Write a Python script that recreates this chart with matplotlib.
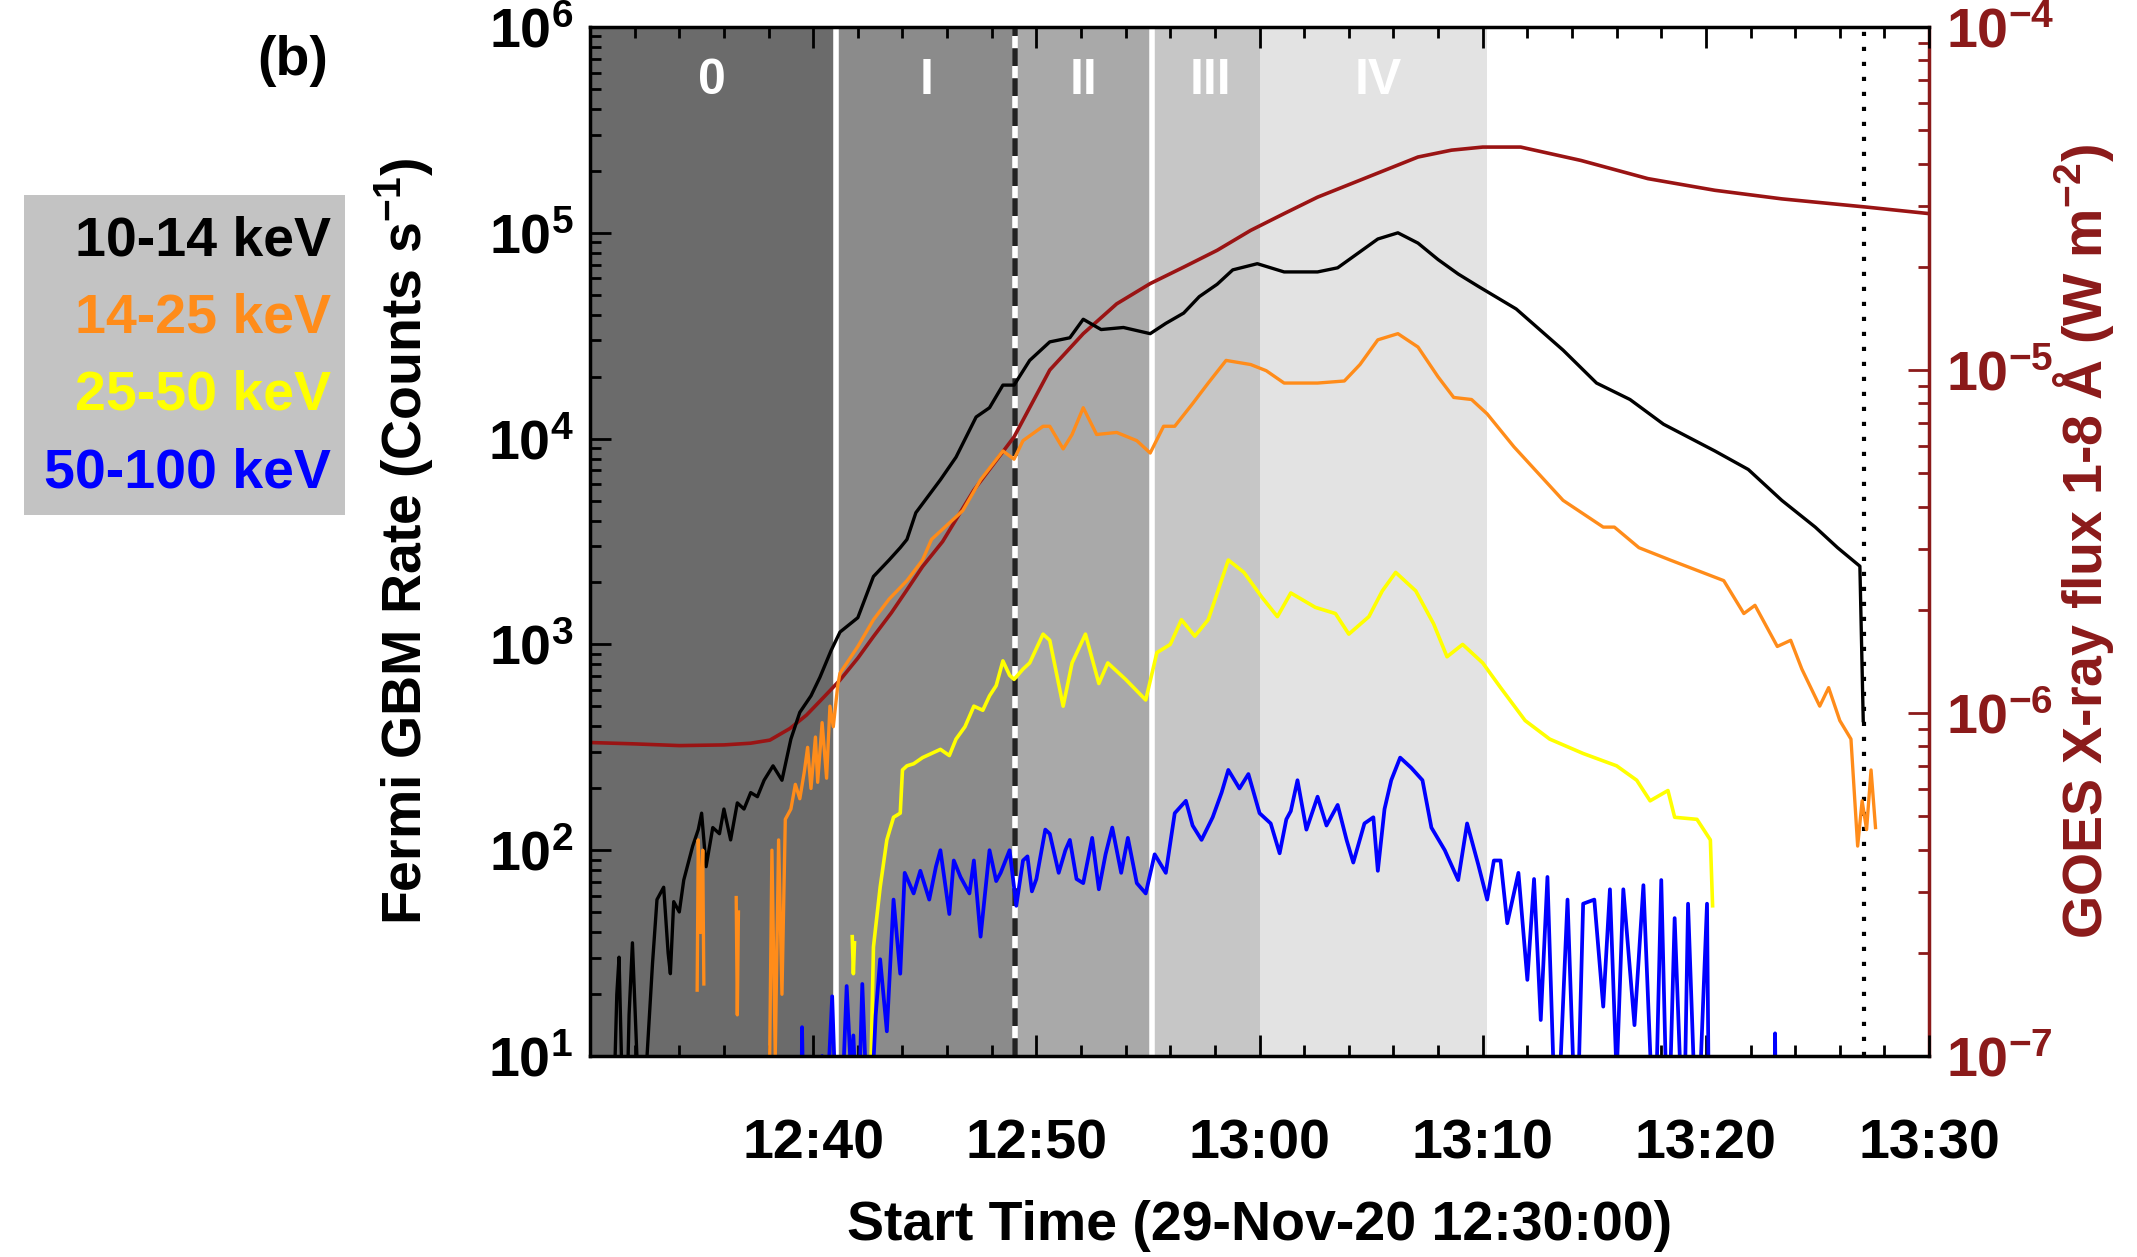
import numpy as np
import matplotlib
matplotlib.use("Agg")
import matplotlib.pyplot as plt
from matplotlib.ticker import FixedLocator, MultipleLocator, LogLocator, FuncFormatter, NullFormatter
from matplotlib.patches import Rectangle
import matplotlib.transforms as mtransforms

plt.rcParams['font.family'] = ['Liberation Sans', 'DejaVu Sans']
plt.rcParams['font.weight'] = 'bold'
plt.rcParams['mathtext.fontset'] = 'custom'
plt.rcParams['mathtext.rm'] = 'Liberation Sans:bold'
plt.rcParams['mathtext.bf'] = 'Liberation Sans:bold'
plt.rcParams['mathtext.it'] = 'Liberation Sans:bold'
plt.rcParams['mathtext.default'] = 'bf'

# time in minutes after 12:30:00, values as log10
# (values <= 1 fall below the axis floor)
black_t = [1.0, 1.2, 1.3, 1.45, 1.6, 1.75, 1.9, 2.1, 2.3, 2.5, 2.8, 3.0, 3.3, 3.5, 3.6, 3.75, 4.0, 4.2,
           4.6, 4.85, 5.0, 5.2, 5.5, 5.8, 6.0, 6.3, 6.6, 6.9, 7.2, 7.5, 7.8, 8.2, 8.6, 9.0, 9.4, 9.9,
           10.3, 10.8, 11.2, 12.0, 12.7, 13.4, 13.9, 14.2, 14.6, 15.7, 16.4, 17.3, 17.9, 18.5, 19.0,
           19.7, 20.6, 21.5, 22.1, 22.9, 23.9, 25.1, 25.8, 26.6, 27.3, 28.1, 28.8, 29.9, 31.1, 32.6,
           33.5, 34.4, 35.3, 36.2, 37.1, 38.0, 38.9, 39.8, 41.5, 43.6, 45.1, 46.6, 48.1, 50.4, 51.9,
           53.4, 54.9, 55.9, 56.9, 57.05]
black_log = [0.5, 1.3, 1.48, 0.8, 0.5, 1.2, 1.55, 1.0, 0.5, 0.9, 1.45, 1.76, 1.82, 1.5, 1.4, 1.75, 1.7, 1.855,
             2.02, 2.1, 2.18, 1.92, 2.11, 2.08, 2.2, 2.05, 2.23, 2.2, 2.28, 2.26, 2.34, 2.41, 2.34, 2.54, 2.67, 2.75,
             2.84, 2.97, 3.06, 3.13, 3.33, 3.41, 3.47, 3.51, 3.64, 3.8, 3.91, 4.105, 4.15, 4.26, 4.26,
             4.38, 4.47, 4.49, 4.58, 4.53, 4.54, 4.51, 4.56, 4.61, 4.69, 4.75, 4.82, 4.85, 4.81, 4.81,
             4.83, 4.9, 4.97, 5.0, 4.95, 4.87, 4.8, 4.74, 4.63, 4.43, 4.27, 4.19, 4.07, 3.94, 3.85,
             3.7, 3.57, 3.47, 3.38, 2.63]

orange_t = [4.8, 4.85, 4.95, 5.05, 5.1, np.nan, 6.55, 6.6, 6.65, np.nan,
            8.0, 8.15, 8.3, 8.45, 8.6, 8.75, 9.0, 9.2, 9.4, 9.6, 9.75, 9.9, 10.1, 10.2, 10.4, 10.6, 10.75,
            10.9, 11.1, 11.2, 12.0, 12.7, 13.4, 14.2, 14.9, 15.3, 16.0, 16.7, 17.5, 18.5, 19.0, 19.4,
            20.3, 20.6, 21.2, 21.6, 22.1, 22.7, 23.6, 24.5, 25.1, 25.7, 26.2, 27.0, 27.7, 28.5, 29.6,
            30.3, 31.1, 32.6, 33.8, 34.5, 35.3, 36.2, 37.1, 38.0, 38.7, 39.5, 40.2, 41.4, 43.6, 45.4,
            45.9, 47.0, 48.4, 50.8, 51.7, 52.2, 53.2, 53.8, 54.3, 55.1, 55.5, 56.0, 56.5, 56.8, 57.0,
            57.2, 57.4, 57.6]
orange_log = [1.32, 2.05, 1.6, 2.0, 1.35, np.nan, 1.77, 1.2, 1.7, np.nan,
              0.5, 2.0, 1.0, 2.05, 1.3, 2.15, 2.2, 2.32, 2.25, 2.38, 2.5, 2.3, 2.55, 2.33, 2.62, 2.35, 2.7,
              2.6, 2.8, 2.86, 2.99, 3.12, 3.22, 3.31, 3.41, 3.51, 3.58, 3.65, 3.8, 3.94, 3.9, 3.99,
              4.06, 4.06, 3.95, 4.02, 4.15, 4.02, 4.03, 3.99, 3.93, 4.06, 4.06, 4.17, 4.27, 4.38, 4.36,
              4.33, 4.27, 4.27, 4.28, 4.36, 4.48, 4.51, 4.445, 4.3, 4.2, 4.19, 4.12, 3.96, 3.7, 3.57,
              3.57, 3.47, 3.41, 3.31, 3.15, 3.19, 2.99, 3.02, 2.88, 2.7, 2.79, 2.63, 2.54, 2.02, 2.24,
              2.1, 2.39, 2.11]

yellow_t = [11.75, 11.8, 11.85, np.nan,
            12.5, 12.7, 13.0, 13.3, 13.6, 13.9, 14.0, 14.2, 14.5, 14.9, 15.3, 15.7, 16.1, 16.4, 16.8,
            17.2, 17.6, 17.9, 18.2, 18.5, 18.8, 19.0, 19.4, 19.7, 20.3, 20.6, 21.2, 21.6, 22.2, 22.8,
            23.2, 24.0, 24.9, 25.4, 26.0, 26.5, 27.1, 27.7, 28.6, 29.3, 30.1, 30.8, 31.4, 32.5, 33.4,
            34.0, 34.9, 35.5, 36.1, 37.0, 37.8, 38.4, 39.1, 40.0, 40.8, 41.9, 43.0, 44.5, 46.0, 46.9,
            47.5, 48.3, 48.6, 49.6, 50.2, 50.3]
yellow_log = [1.58, 1.4, 1.55, np.nan,
              0.5, 1.53, 1.82, 2.05, 2.16, 2.18, 2.39, 2.41, 2.42, 2.45, 2.47, 2.49, 2.46, 2.54, 2.6,
              2.7, 2.68, 2.75, 2.8, 2.92, 2.85, 2.83, 2.88, 2.91, 3.05, 3.02, 2.7, 2.91, 3.05, 2.81,
              2.91, 2.83, 2.73, 2.96, 3.0, 3.12, 3.04, 3.12, 3.41, 3.35, 3.23, 3.135, 3.25, 3.18, 3.15,
              3.05, 3.135, 3.26, 3.35, 3.26, 3.1, 2.94, 3.0, 2.91, 2.79, 2.63, 2.54, 2.47, 2.41, 2.34,
              2.24, 2.29, 2.16, 2.15, 2.05, 1.73]

blue_t = [9.45, 9.5, 9.6, 10.3, 10.4, 10.5, 10.85, 11.0, 11.2, 11.5, 11.7, 11.8, 12.0, 12.2, 12.5,
          12.8, 13.0, 13.3, 13.6, 13.9, 14.1, 14.5, 14.8, 15.2, 15.5, 15.7, 16.1, 16.3, 16.6, 17.0,
          17.2, 17.5, 17.9, 18.2, 18.4, 18.8, 19.1, 19.4, 19.6, 19.8, 20.0, 20.4, 20.6, 21.0, 21.3,
          21.5, 21.8, 22.1, 22.5, 22.8, 23.1, 23.4, 23.8, 24.1, 24.5, 24.9, 25.3, 25.8, 26.2, 26.7,
          27.0, 27.4, 27.9, 28.3, 28.6, 29.1, 29.5, 30.0, 30.5, 30.9, 31.2, 31.4, 31.7, 32.1, 32.6,
          33.0, 33.5, 33.9, 34.2, 34.7, 35.1, 35.3, 35.6, 35.9, 36.3, 36.8, 37.3, 37.7, 38.3, 38.9,
          39.3, 39.8, 40.2, 40.5, 40.8, 41.1, 41.6, 42.0, 42.3, 42.6, 42.9, 43.3, 43.8, 44.2, 44.5,
          45.0, 45.4, 45.7, 46.0, 46.3, 46.8, 47.2, 47.7, 48.0, 48.3, 48.6, 49.0, 49.2, 49.6, 50.05,
          50.15, np.nan, 53.05, 53.1, 53.15]
blue_log = [0.5, 1.14, 0.5, 0.5, 1.0, 0.5, 1.29, 0.8, 0.5, 1.34, 0.9, 1.1, 0.6, 1.35, 0.5,
            1.2, 1.47, 1.12, 1.76, 1.4, 1.89, 1.79, 1.9, 1.76, 1.92, 2.0, 1.69, 1.95, 1.87, 1.79,
            1.95, 1.58, 2.0, 1.85, 1.89, 2.0, 1.73, 1.95, 1.97, 1.8, 1.86, 2.1, 2.08, 1.89, 2.0,
            2.05, 1.86, 1.84, 2.06, 1.81, 1.98, 2.11, 1.89, 2.06, 1.84, 1.79, 1.98, 1.89, 2.18, 2.24,
            2.12, 2.05, 2.16, 2.28, 2.39, 2.3, 2.37, 2.18, 2.13, 1.985, 2.15, 2.19, 2.34, 2.1, 2.26,
            2.12, 2.22, 2.05, 1.94, 2.13, 2.16, 1.9, 2.2, 2.34, 2.45, 2.4, 2.34, 2.11, 2.0, 1.855,
            2.13, 1.93, 1.76, 1.95, 1.95, 1.645, 1.89, 1.37, 1.86, 1.175, 1.87, 0.5, 1.76, 0.5, 1.74,
            1.76, 1.24, 1.81, 0.9, 1.81, 1.15, 1.83, 0.5, 1.855, 0.5, 1.67, 0.5, 1.74, 0.5, 1.74,
            0.5, np.nan, 0.5, 1.11, 0.5]

goes_t = [0, 2, 4, 6, 7.2, 8.06, 8.96, 9.7, 10.5, 11.2, 12.0, 12.7, 13.5, 14.2, 14.9, 15.8, 17.2,
          19.0, 20.6, 22.1, 23.6, 25.1, 26.6, 28.1, 29.6, 31.1, 32.6, 34.1, 35.6, 37.1, 38.6, 40.0,
          41.7, 44.4, 47.4, 50.4, 53.4, 57.2, 60]
goes_log = [-6.086, -6.09, -6.095, -6.093, -6.088, -6.079, -6.045, -6.006, -5.952, -5.904, -5.84,
            -5.777, -5.708, -5.641, -5.573, -5.5, -5.35, -5.195, -5.0, -4.894, -4.807, -4.748, -4.7,
            -4.651, -4.593, -4.544, -4.496, -4.457, -4.418, -4.379, -4.359, -4.35, -4.35, -4.389,
            -4.442, -4.476, -4.501, -4.525, -4.544]

phase_names = ['0', 'I', 'II', 'III', 'IV']
phase_start = [0.0, 11.0, 19.05, 25.2, 30.0]
phase_end = [11.0, 19.05, 25.2, 30.0, 40.2]
phase_label_t = [5.45, 15.1, 22.1, 27.8, 35.3]
phase_colors = ['#6b6b6b', '#8b8b8b', '#a9a9a9', '#c6c6c6', '#e3e3e3']

band_names = ['10-14 keV', '14-25 keV', '25-50 keV', '50-100 keV']
band_colors = ['black', '#ff8c1a', '#ffff00', '#0000ff']
band_widths = [2.4, 2.4, 2.6, 2.7]

xtick_pos = [0, 10, 20, 30, 40, 50, 60]
xtick_lab = ['', '12:40', '12:50', '13:00', '13:10', '13:20', '13:30']

goes_color = '#9a1414'
axis_red = '#8b1a1a'
fs = 40

fig = plt.figure(figsize=(21.37, 12.57), dpi=100)
ax = fig.add_axes([0.2761, 0.1599, 0.6266, 0.8186])
ax2 = ax.twinx()
ax.set_zorder(2)
ax.patch.set_visible(False)
ax2.set_zorder(1)

# shaded phases and markers (on the lower axes)
for s, e, c in zip(phase_start, phase_end, phase_colors):
    ax2.axvspan(s, e, color=c, lw=0, zorder=0)
ax2.axvline(11.0, color='white', lw=4, zorder=1)
ax2.axvline(25.2, color='white', lw=4, zorder=1)
ax2.axvline(19.05, color='white', lw=4, zorder=1)
ax2.axvline(19.05, color='#222222', lw=4, ls=(0, (3.2, 2.2)), zorder=1.5)
ax2.axvline(57.1, color='black', lw=3, ls=(0, (1, 2.6)), zorder=1)

trans = mtransforms.blended_transform_factory(ax.transData, ax.transAxes)
for name, t in zip(phase_names, phase_label_t):
    ax.text(t, 0.948, name, transform=trans, color='white', fontsize=36,
            ha='center', va='center', fontweight='bold')

ax2.plot(goes_t, 10 ** np.array(goes_log), color=goes_color, lw=2.6, zorder=2)

series = [(black_t, black_log), (orange_t, orange_log), (yellow_t, yellow_log), (blue_t, blue_log)]
for (t, lg), c, w in zip(series, band_colors, band_widths):
    ax.plot(t, 10 ** np.array(lg, dtype=float), color=c, lw=w)

ax.set_xlim(0, 60)
ax.set_yscale('log')
ax.set_ylim(10, 1e6)
ax2.set_yscale('log')
ax2.set_ylim(1e-7, 1e-4)

ax.xaxis.set_major_locator(FixedLocator(xtick_pos))
ax.set_xticklabels(xtick_lab)
ax.xaxis.set_minor_locator(MultipleLocator(2))

ax.yaxis.set_major_locator(LogLocator(base=10, numticks=10))
ax.yaxis.set_minor_locator(LogLocator(base=10, subs=np.arange(2, 10), numticks=20))
ax.yaxis.set_major_formatter(FuncFormatter(lambda v, p: r'$10^{%d}$' % round(np.log10(v))))
ax.yaxis.set_minor_formatter(NullFormatter())
ax2.yaxis.set_major_locator(LogLocator(base=10, numticks=10))
ax2.yaxis.set_minor_locator(LogLocator(base=10, subs=np.arange(2, 10), numticks=20))
ax2.yaxis.set_major_formatter(FuncFormatter(lambda v, p: r'$10^{%d}$' % round(np.log10(v))))
ax2.yaxis.set_minor_formatter(NullFormatter())

ax.tick_params(axis='both', which='both', direction='in', labelsize=fs, width=2)
ax.tick_params(axis='x', which='both', top=True, bottom=True, pad=45)
ax.tick_params(axis='y', which='both', left=True, right=False, pad=12)
ax.tick_params(which='major', length=15)
ax.tick_params(which='minor', length=8)
ax2.tick_params(axis='y', which='both', direction='in', colors=axis_red, labelsize=fs,
                width=2, pad=12)
ax2.tick_params(which='major', length=15)
ax2.tick_params(which='minor', length=8)

for sp in ['left', 'top', 'bottom']:
    ax.spines[sp].set_linewidth(2.5)
    ax2.spines[sp].set_visible(False)
ax.spines['right'].set_visible(False)
ax2.spines['right'].set_color(axis_red)
ax2.spines['right'].set_linewidth(2.5)

ax.set_xlabel('Start Time (29-Nov-20 12:30:00)', fontsize=fs, fontweight='bold', labelpad=21)
ax.set_ylabel('Fermi GBM Rate (Counts s$^{-1}$)', fontsize=fs, fontweight='bold', labelpad=37)
ax2.set_ylabel('GOES X-ray flux 1-8 Å (W m$^{-2}$)', fontsize=fs, fontweight='bold',
               color=axis_red, labelpad=-2)

# legend box
fig.patches.append(Rectangle((24 / 2137, 1 - 515 / 1257), 321 / 2137, 320 / 1257,
                             transform=fig.transFigure, facecolor='#c3c3c3', edgecolor='none'))
for i, (name, c) in enumerate(zip(band_names, band_colors)):
    fig.text(331 / 2137, 1 - (241 + 77.5 * i) / 1257, name, color=c, fontsize=fs,
             fontweight='bold', ha='right', va='center')

fig.text(293 / 2137, 1 - 61 / 1257, '(b)', fontsize=fs, fontweight='bold', ha='center', va='center')

fig.savefig('out.png', dpi=100)
